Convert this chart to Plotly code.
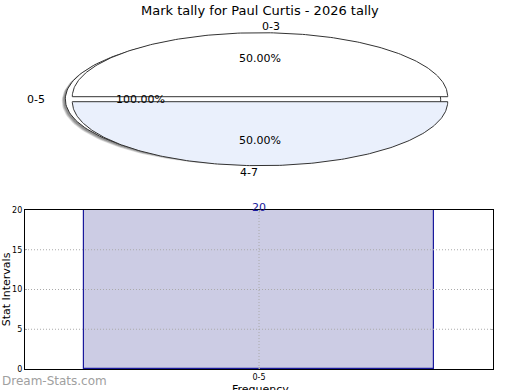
import numpy as np
import plotly.graph_objects as go

# ---- data ----
title = "Mark tally for Paul Curtis - 2026 tally"
inner_labels = ["0-3", "4-7"]
inner_values = [50, 50]
outer_labels = ["0-5"]
outer_values = [100]
bar_categories = ["0-5"]
bar_values = [20]
y_ticks = [0, 5, 10, 15, 20]

FONT = "DejaVu Sans"
W, H = 520, 390

# pie geometry in pixel space (axis x2/y2 maps 1:1 to pixels)
CX, CY, A, B = 260.0, 99.2, 187.7, 64.0
inner_explode = 2.5
outer_explode = 7.0
inner_colors = ["#FFFFFF", "#EAF0FC"]


def wedge(cx, cy, t0, t1, full=False, n=200):
    t = np.linspace(np.radians(t0), np.radians(t1), n)
    xs = cx + A * np.cos(t)
    ys = cy - B * np.sin(t)
    if not full:
        xs = np.concatenate([[cx], xs, [cx]])
        ys = np.concatenate([[cy], ys, [cy]])
    return xs, ys


fig = go.Figure()
annotations = []

# outer ring slice (0-5)
tot_o = sum(outer_values)
start = 0.0
for lab, v in zip(outer_labels, outer_values):
    ang = 360.0 * v / tot_o
    mid = np.radians(start + ang / 2)
    ox = CX + outer_explode * np.cos(mid)
    oy = CY - outer_explode * np.sin(mid)
    full = ang >= 359.99
    # shadow
    for k, (dx, dy, op) in enumerate([(-3.5, 2.2, 0.18), (-2.8, 1.7, 0.22), (-2.0, 1.2, 0.3)]):
        xs, ys = wedge(ox + dx, oy + dy, start, start + ang, full)
        fig.add_trace(go.Scatter(x=xs, y=ys, xaxis="x2", yaxis="y2", mode="lines",
                                 fill="toself", fillcolor=f"rgba(60,60,60,{op})",
                                 line=dict(width=0), hoverinfo="skip", showlegend=False))
    xs, ys = wedge(ox, oy, start, start + ang, full)
    fig.add_trace(go.Scatter(x=xs, y=ys, xaxis="x2", yaxis="y2", mode="lines",
                             fill="toself", fillcolor="#FFFFFF",
                             line=dict(color="#333333", width=1), hoverinfo="skip", showlegend=False))
    lx = ox + 1.1 * A * np.cos(mid)
    ly = oy - 1.1 * B * np.sin(mid)
    annotations.append(dict(x=lx, y=ly, xref="x2", yref="y2", text=lab, showarrow=False,
                            xanchor="left" if np.cos(mid) >= 0 else "right",
                            font=dict(family=FONT, size=11, color="#000")))
    px = ox + 0.6 * A * np.cos(mid)
    py = oy - 0.6 * B * np.sin(mid)
    annotations.append(dict(x=px, y=py, xref="x2", yref="y2", text=f"{100.0*v/tot_o:.2f}%",
                            showarrow=False, font=dict(family=FONT, size=11, color="#000")))
    start += ang

# inner slices
tot_i = sum(inner_values)
start = 0.0
for lab, v, col in zip(inner_labels, inner_values, inner_colors):
    ang = 360.0 * v / tot_i
    mid = np.radians(start + ang / 2)
    ox = CX + inner_explode * np.cos(mid)
    oy = CY - inner_explode * np.sin(mid)
    xs, ys = wedge(ox, oy, start, start + ang)
    fig.add_trace(go.Scatter(x=xs, y=ys, xaxis="x2", yaxis="y2", mode="lines",
                             fill="toself", fillcolor=col,
                             line=dict(color="#333333", width=1), hoverinfo="skip", showlegend=False))
    c = np.cos(mid)
    lx = ox + 1.1 * A * c
    ly = oy - 1.1 * B * np.sin(mid)
    annotations.append(dict(x=lx, y=ly, xref="x2", yref="y2", text=lab, showarrow=False,
                            xanchor="left" if c > 1e-9 or abs(c) < 1e-9 and np.sin(mid) > 0 else "right",
                            font=dict(family=FONT, size=11, color="#000")))
    px = ox + 0.6 * A * c
    py = oy - 0.6 * B * np.sin(mid)
    annotations.append(dict(x=px, y=py, xref="x2", yref="y2", text=f"{100.0*v/tot_i:.2f}%",
                            showarrow=False, font=dict(family=FONT, size=11, color="#000")))
    start += ang

# bar chart
fig.add_trace(go.Bar(x=bar_categories, y=bar_values, width=0.748,
                     marker=dict(color="#CCCCE4", line=dict(color="#1A1A9C", width=1.2)),
                     hoverinfo="skip", showlegend=False))
for c, v in zip(bar_categories, bar_values):
    annotations.append(dict(x=c, y=v, xref="x", yref="y", text=str(v), showarrow=False,
                            yanchor="bottom", yshift=-6,
                            font=dict(family=FONT, size=11, color="#1A1A9C")))

grid_line = dict(color="#AAAAAA", width=1, dash="1px,2px")
shapes = []
for t in y_ticks[1:-1]:
    shapes.append(dict(type="line", xref="x domain", yref="y", x0=0, x1=1, y0=t, y1=t,
                       line=grid_line, layer="above"))
for c in bar_categories:
    shapes.append(dict(type="line", xref="x", yref="y", x0=c, x1=c, y0=y_ticks[0], y1=y_ticks[-1],
                       line=grid_line, layer="above"))

annotations.append(dict(x=0, y=381, xref="x2", yref="y2", text="Dream-Stats.com", showarrow=False,
                        xanchor="left", font=dict(family=FONT, size=12, color="#A0A0A0")))
annotations.append(dict(x=260, y=10, xref="x2", yref="y2", text=title, showarrow=False,
                        font=dict(family=FONT, size=13, color="#000")))
annotations.append(dict(x=260, y=381, xref="x2", yref="y2", text="Frequency", showarrow=False,
                        yanchor="top", font=dict(family=FONT, size=11, color="#000")))

fig.update_layout(
    width=W, height=H, margin=dict(l=0, r=0, t=0, b=0, autoexpand=False),
    paper_bgcolor="white", plot_bgcolor="rgba(0,0,0,0)",
    showlegend=False, bargap=0,
    font=dict(family=FONT, color="#000"),
    xaxis=dict(domain=[25 / W, 493 / W], range=[-0.5, 0.5], type="category",
               showline=True, linecolor="#000", linewidth=1.2, mirror="ticks",
               ticks="inside", ticklen=2, tickcolor="#AAAAAA", showgrid=False,
               tickfont=dict(family=FONT, size=8), zeroline=False, automargin=False),
    yaxis=dict(domain=[(H - 369) / H, (H - 210) / H], range=[0, 20], tickvals=y_ticks,
               showline=True, linecolor="#000", linewidth=1.2, mirror="ticks",
               ticks="inside", ticklen=2, tickcolor="#AAAAAA", showgrid=False,
               tickfont=dict(family=FONT, size=8), zeroline=False, automargin=False,
               title=dict(text="Stat Intervals", font=dict(family=FONT, size=11), standoff=2)),
    xaxis2=dict(domain=[0, 1], range=[0, W], visible=False, fixedrange=True, automargin=False),
    yaxis2=dict(domain=[0, 1], range=[H, 0], visible=False, fixedrange=True, anchor="x2",
                automargin=False),
    annotations=annotations, shapes=shapes,
)

fig.write_html("out.html")
